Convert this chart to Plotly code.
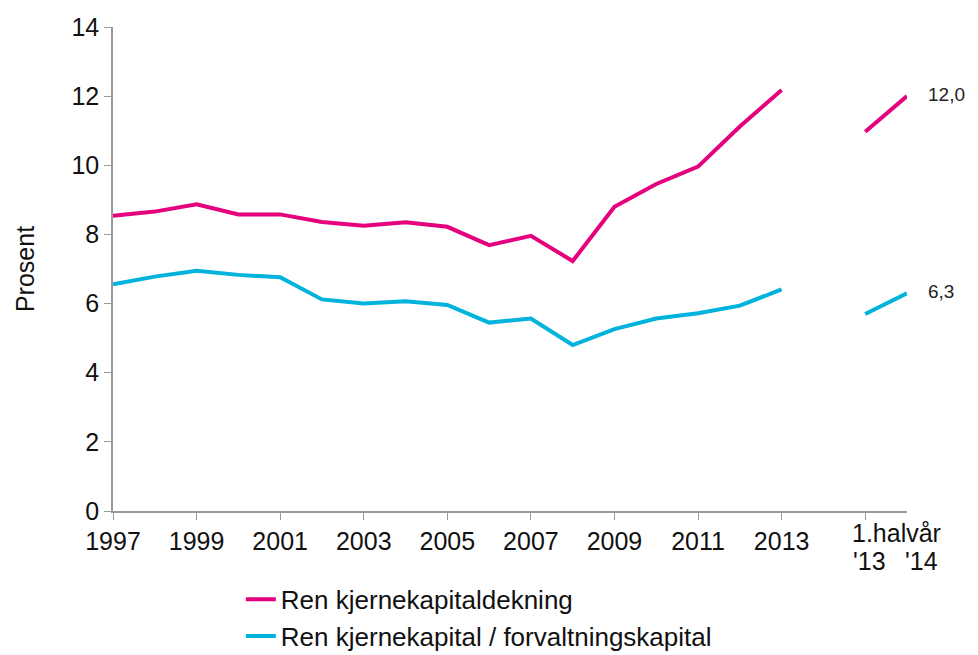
import plotly.graph_objects as go

# ---- data ----
years = list(range(1997, 2014))
half_labels = ["'13", "'14"]
half_pos = [2015, 2016]   # positions of the half-year points on the axis

cet1_ratio = [8.54, 8.66, 8.87, 8.58, 8.58, 8.36, 8.25, 8.35, 8.22, 7.69, 7.96,
              7.23, 8.80, 9.46, 9.96, 11.12, 12.18]
cet1_half = [10.97, 12.0]

cet1_assets = [6.56, 6.78, 6.95, 6.83, 6.76, 6.12, 6.00, 6.07, 5.96, 5.45, 5.57,
               4.80, 5.26, 5.57, 5.72, 5.94, 6.41]
cet1_assets_half = [5.70, 6.30]

names = ["Ren kjernekapitaldekning", "Ren kjernekapital / forvaltningskapital"]
colors = ["#E5007D", "#00B3DD"]
end_labels = ["12,0", "6,3"]

tick_years = list(range(1997, 2014, 2))

FONT = "Liberation Sans, Arial, sans-serif"
FS = 25

fig = go.Figure()
for name, col, main, half in [(names[0], colors[0], cet1_ratio, cet1_half),
                              (names[1], colors[1], cet1_assets, cet1_assets_half)]:
    fig.add_trace(go.Scatter(
        x=years + [2014] + half_pos,
        y=main + [None] + half,
        mode="lines", name=name,
        line=dict(color=col, width=4),
        connectgaps=False, cliponaxis=False,
    ))

for lab, val in zip(end_labels, [cet1_half[-1], cet1_assets_half[-1]]):
    fig.add_annotation(x=half_pos[-1], y=val, text=lab, showarrow=False,
                       xanchor="left", xshift=19, yshift=2,
                       font=dict(size=19, color="#222", family=FONT))

# half-year tick labels (positioned relative to the last half-year point)
fig.add_annotation(x=half_pos[-1], y=0, text="1.halvår", showarrow=False,
                   xanchor="center", yanchor="top", xshift=-11, yshift=-6,
                   font=dict(size=FS, color="#111", family=FONT))
for lab, xs in zip(half_labels, [-38, 14]):
    fig.add_annotation(x=half_pos[-1], y=0, text=lab, showarrow=False,
                       xanchor="center", yanchor="top", xshift=xs, yshift=-34,
                       font=dict(size=FS, color="#111", family=FONT))

# page body has an 8px margin, so the figure is sized 8px smaller
fig.update_layout(
    width=970, height=647,
    margin=dict(l=105, r=71, t=19, b=144, autoexpand=False),
    paper_bgcolor="white", plot_bgcolor="white",
    font=dict(family=FONT, size=FS, color="#111"),
    showlegend=True,
    legend=dict(x=0.161, y=-0.134, xanchor="left", yanchor="top",
                orientation="v", font=dict(size=26), tracegroupgap=8,
                bgcolor="rgba(0,0,0,0)"),
    xaxis=dict(range=[1997, 2016], tickvals=tick_years + [2015],
               ticktext=[str(y) for y in tick_years] + [""],
               showgrid=False, zeroline=False, showline=True, automargin=False,
               linecolor="#999", linewidth=1.5, ticks="outside", ticklen=7,
               tickcolor="#999", tickfont=dict(size=FS)),
    yaxis=dict(range=[0, 14], dtick=2, showgrid=False, zeroline=False,
               showline=True, linecolor="#999", linewidth=1.5, automargin=False,
               ticks="outside", ticklen=7, tickcolor="#999",
               tickfont=dict(size=FS),
               title=dict(text="Prosent", font=dict(size=FS), standoff=30)),
)

fig.write_html("out.html")
